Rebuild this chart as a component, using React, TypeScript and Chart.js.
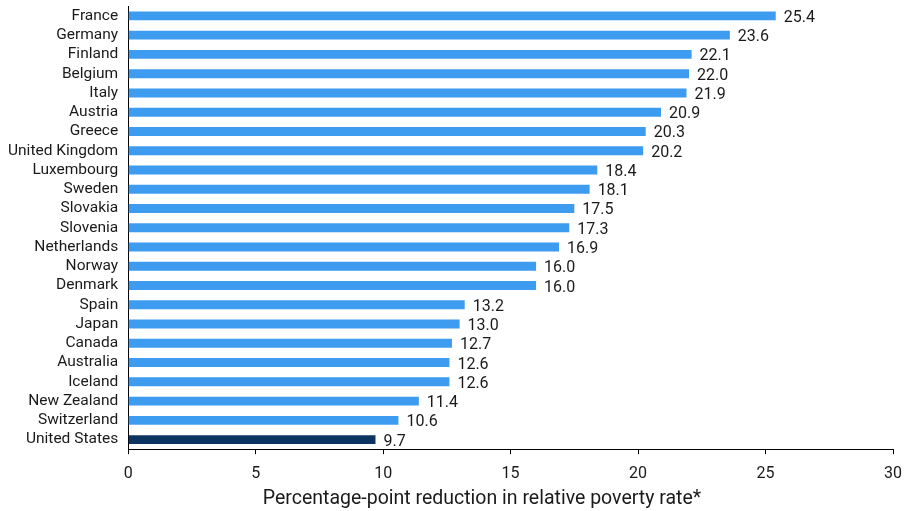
import React, { useEffect, useRef } from "react";
import { Chart, registerables } from "chart.js";

Chart.register(...registerables);

const countries = [
  "France", "Germany", "Finland", "Belgium", "Italy", "Austria", "Greece",
  "United Kingdom", "Luxembourg", "Sweden", "Slovakia", "Slovenia", "Netherlands",
  "Norway", "Denmark", "Spain", "Japan", "Canada", "Australia", "Iceland",
  "New Zealand", "Switzerland", "United States",
];
const reductions = [
  25.4, 23.6, 22.1, 22.0, 21.9, 20.9, 20.3, 20.2, 18.4, 18.1, 17.5, 17.3, 16.9,
  16.0, 16.0, 13.2, 13.0, 12.7, 12.6, 12.6, 11.4, 10.6, 9.7,
];
const xTicks = [0, 5, 10, 15, 20, 25, 30];
const axisTitle = "Percentage-point reduction in relative poverty rate*";

const FONT = "Roboto, sans-serif";
const SHIFT_Y = 13;
const SHIFT_X = 9;
const TITLE_SIZE = 19.5;

const valueLabels = {
  id: "valueLabels",
  afterDatasetsDraw(chart: any) {
    const ctx = chart.ctx;
    const meta = chart.getDatasetMeta(0);
    ctx.save();
    ctx.font = `16px ${FONT}`;
    ctx.fillStyle = "#1a1a1a";
    ctx.textAlign = "left";
    ctx.textBaseline = "middle";
    meta.data.forEach((bar: any, i: number) => {
      ctx.fillText(reductions[i].toFixed(1), bar.x + 8, bar.y + 2);
    });
    // axis title, centred where the reference puts it
    const xs = chart.scales.x;
    ctx.font = `${TITLE_SIZE}px ${FONT}`;
    ctx.textAlign = "center";
    ctx.fillText(axisTitle, 482 + SHIFT_X, xs.bottom - 10);
    ctx.restore();
  },
};

export default function App() {
  const ref = useRef<HTMLCanvasElement>(null);
  useEffect(() => {
    document.body.style.margin = "0";
    const colors = countries.map((c) => (c === "United States" ? "#0b3560" : "#3d9cf0"));
    const chart = new Chart(ref.current!, {
      type: "bar",
      data: {
        labels: countries,
        datasets: [
          {
            data: reductions,
            backgroundColor: colors,
            borderWidth: 0,
            barPercentage: 0.92,
            categoryPercentage: 0.5,
          },
        ],
      },
      options: {
        indexAxis: "y",
        animation: false,
        responsive: false,
        maintainAspectRatio: false,
        layout: { padding: { top: 0, right: 9, left: 7, bottom: 2 } },
        plugins: { legend: { display: false }, tooltip: { enabled: false } },
        scales: {
          x: {
            type: "linear",
            min: 0,
            max: 30,
            afterBuildTicks: (axis: any) => {
              axis.ticks = xTicks.map((v) => ({ value: v }));
            },
            grid: { display: true, drawOnChartArea: false, drawTicks: true, tickLength: 5, color: "#000" },
            border: { display: true, color: "#000", width: 1 },
            ticks: { color: "#1a1a1a", font: { family: FONT, size: 16 }, padding: 10 },
            title: {
              display: true,
              text: axisTitle,
              color: "rgba(0,0,0,0)",
              font: { family: FONT, size: 13 },
              padding: { top: 0, bottom: 0 },
            },
          },
          y: {
            grid: { display: false, drawTicks: false },
            border: { display: true, color: "#000", width: 1 },
            ticks: { color: "#1a1a1a", font: { family: FONT, size: 15.5 }, padding: 10, autoSkip: false },
          },
        },
      },
      plugins: [valueLabels],
    });
    return () => chart.destroy();
  }, []);
  return (
    <div style={{ position: "absolute", left: 0, top: 0, width: 912, height: 511, overflow: "hidden" }}>
      <canvas
        ref={ref}
        width={912 + SHIFT_X}
        height={511 + SHIFT_Y}
        style={{ position: "absolute", left: -SHIFT_X, top: -SHIFT_Y }}
      />
    </div>
  );
}
